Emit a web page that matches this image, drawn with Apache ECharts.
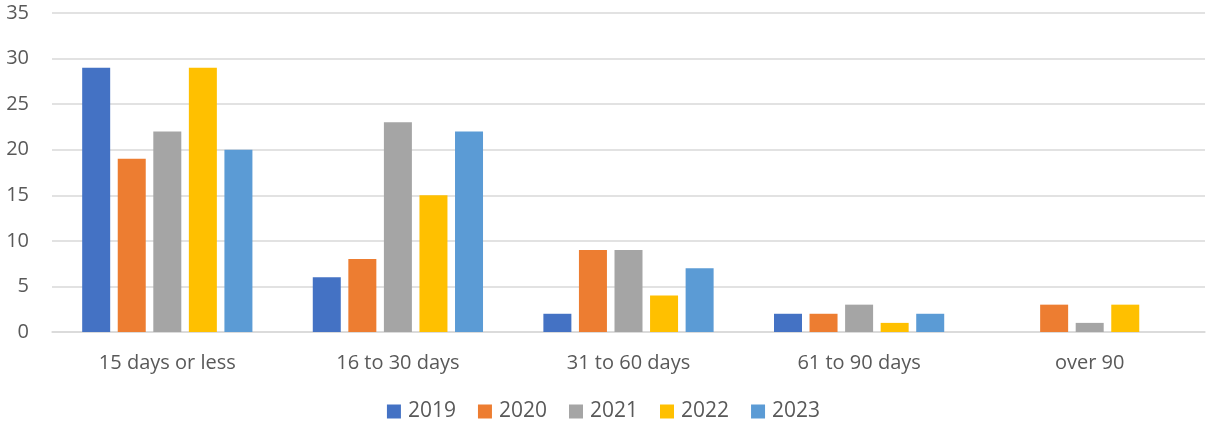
<!DOCTYPE html>
<html>
<head>
<meta charset="utf-8">
<script src="https://cdn.jsdelivr.net/npm/echarts@6/dist/echarts.min.js"></script>
<style>
  html, body { margin: 0; padding: 0; background: #fff; }
  #chart { width: 1207px; height: 430px; }
</style>
</head>
<body>
<div id="chart"></div>
<script>
// categories and series values
const categories = ["15 days or less", "16 to 30 days", "31 to 60 days", "61 to 90 days", "over 90"];
const years = ["2019", "2020", "2021", "2022", "2023"];
const colors = ["#4472C4", "#ED7D31", "#A5A5A5", "#FFC000", "#5B9BD5"];

const v2019 = [29, 6, 2, 2, null];
const v2020 = [19, 8, 9, 2, 3];
const v2021 = [22, 23, 9, 3, 1];
const v2022 = [29, 15, 4, 1, 3];
const v2023 = [20, 22, 7, 2, null];
const values = [v2019, v2020, v2021, v2022, v2023];

const textColor = "#595959";
const font = "'Open Sans', 'Noto Sans', sans-serif";

const chart = echarts.init(document.getElementById("chart"));

const option = {
  animation: false,
  color: colors,
  textStyle: { fontFamily: font },
  grid: {
    left: 52,
    right: 2,
    top: 13,
    bottom: 98,
    containLabel: false,
  },
  legend: {
    bottom: 3,
    left: "center",
    itemWidth: 14,
    itemHeight: 14,
    itemGap: 22,
    icon: "rect",
    textStyle: { color: textColor, fontSize: 21, fontFamily: font, padding: [0, 0, 0, 2] },
    data: years,
  },
  xAxis: {
    type: "category",
    data: categories,
    axisLine: { show: true, lineStyle: { color: "#d9d9d9", width: 1.5 } },
    axisTick: { show: false },
    axisLabel: { color: textColor, fontSize: 20, margin: 21, fontFamily: font },
  },
  yAxis: {
    type: "value",
    min: 0,
    max: 35,
    interval: 5,
    axisLine: { show: false },
    axisTick: { show: false },
    axisLabel: { color: textColor, fontSize: 20, margin: 23, fontFamily: font },
    splitLine: { lineStyle: { color: "#d9d9d9", width: 1.5 } },
  },
  series: years.map((y, i) => ({
    name: y,
    type: "bar",
    data: values[i],
    barWidth: 28,
    barGap: "27%",
    itemStyle: { color: colors[i] },
  })),
};

chart.setOption(option);
window.addEventListener("resize", chart.resize);
</script>
</body>
</html>
